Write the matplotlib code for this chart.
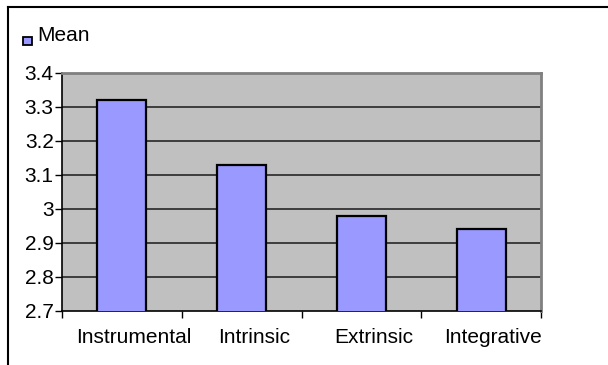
import matplotlib.pyplot as plt
import matplotlib.transforms as mtransforms
from matplotlib.lines import Line2D
from matplotlib.patches import Rectangle

categories = ['Instrumental', 'Intrinsic', 'Extrinsic', 'Integrative']
means = [3.32, 3.13, 2.98, 2.94]
yticks = [2.7, 2.8, 2.9, 3.0, 3.1, 3.2, 3.3, 3.4]
ytick_labels = ['2.7', '2.8', '2.9', '3', '3.1', '3.2', '3.3', '3.4']

plt.rcParams['font.family'] = ['Liberation Sans', 'DejaVu Sans']

W, H = 608, 365
fig = plt.figure(figsize=(W / 100, H / 100), dpi=100)

# plot area in pixel units
left, right, top, bottom = 62, 541, 73, 311
ax = fig.add_axes([left / W, 1 - bottom / H, (right - left) / W, (bottom - top) / H])
ax.set_facecolor('#c0c0c0')

x = list(range(len(categories)))
ax.bar(x, means, width=0.41, color='#9999ff', edgecolor='black', linewidth=1.6, zorder=3)

ax.set_xlim(-0.5, len(categories) - 0.5)
ax.set_ylim(2.7, 3.4)
ax.set_yticks(yticks)
ax.set_yticklabels(ytick_labels, fontsize=15)
for y in yticks[1:-1]:
    ax.axhline(y, color='#333333', linewidth=1.3, zorder=1)

# category labels without ticks, boundary ticks below the axis
ax.set_xticks(x)
ax.set_xticklabels(categories, fontsize=15)
ax.tick_params(axis='x', length=0, pad=12)
shift = mtransforms.ScaledTranslation(0.12, 0, fig.dpi_scale_trans)
for lbl in ax.get_xticklabels():
    lbl.set_transform(lbl.get_transform() + shift)
ax.set_xticks([i - 0.5 for i in range(len(categories) + 1)], minor=True)
ax.tick_params(axis='x', which='minor', length=5, width=1, direction='out')
ax.tick_params(axis='y', length=5, width=1, direction='out', pad=1)

for side in ('top', 'right'):
    ax.spines[side].set_color('#808080')
    ax.spines[side].set_linewidth(2)
for side in ('left', 'bottom'):
    ax.spines[side].set_color('black')
    ax.spines[side].set_linewidth(1.2)

# legend: small square with the series name
fig.patches.append(Rectangle((23 / W, 1 - 45 / H), 9 / W, 8 / H, transform=fig.transFigure,
                             facecolor='#9999ff', edgecolor='black', linewidth=1.3))
fig.text(37 / W, 1 - 41 / H, 'Mean', fontsize=15, ha='left', va='baseline')

# outer chart frame
fig.add_artist(Line2D([8 / W, 8 / W], [1 - 7 / H, 0], transform=fig.transFigure,
                      color='black', linewidth=1.5))
fig.add_artist(Line2D([8 / W, 1], [1 - 7 / H, 1 - 7 / H], transform=fig.transFigure,
                      color='black', linewidth=1.5))

fig.savefig('out.png', dpi=100)
